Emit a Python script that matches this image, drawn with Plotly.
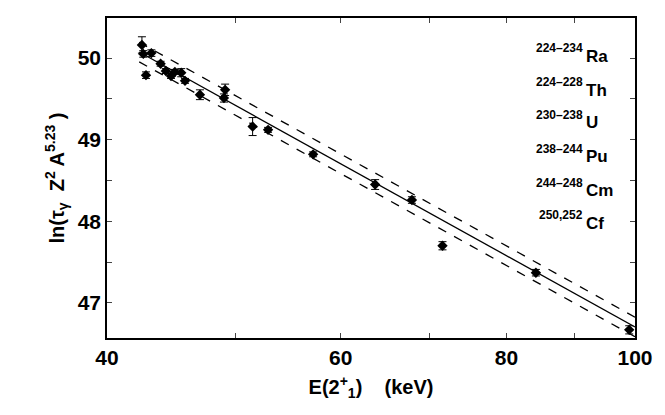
import plotly.graph_objects as go
import numpy as np

E = [42.5, 42.6, 43.2, 42.8, 43.9, 44.3, 44.7, 45.0, 45.5, 45.8, 47.0, 49.0, 49.1, 51.5, 52.9, 57.2, 63.7, 67.9, 71.6, 84.2, 99.0]
Y = [50.16, 50.05, 50.06, 49.79, 49.93, 49.84, 49.78, 49.83, 49.82, 49.72, 49.55, 49.51, 49.61, 49.16, 49.12, 48.82, 48.45, 48.26, 47.70, 47.37, 46.67]
ERR = [0.10, 0.04, 0.04, 0.04, 0.03, 0.03, 0.03, 0.03, 0.05, 0.03, 0.06, 0.05, 0.07, 0.11, 0.03, 0.03, 0.06, 0.04, 0.05, 0.04, 0.05]
fit_a, fit_b, band = 64.73, -3.914, 0.12
mass = ["224–234", "224–228", "230–238", "238–244", "244–248", "250,252"]
elem = ["Ra", "Th", "U", "Pu", "Cm", "Cf"]

xf = np.array([42.3, 100.0])
yf = fit_a + fit_b*np.log(xf)
fig = go.Figure()
fig.add_trace(go.Scatter(x=xf, y=yf, mode="lines", line=dict(color="black", width=1.3)))
for s in (band, -band):
    fig.add_trace(go.Scatter(x=xf, y=yf+s, mode="lines", line=dict(color="black", width=1.3, dash="dash")))
fig.add_trace(go.Scatter(x=E, y=Y, mode="markers",
    marker=dict(symbol="diamond", size=8, color="black"),
    error_y=dict(type="data", array=ERR, color="black", thickness=1, width=4)))
ypix = [45, 79, 112, 146, 180, 213]
for m, el, p in zip(mass, elem, ypix):
    yp = (330 - p) / 322
    fig.add_annotation(x=0.905, y=yp + 0.02, xref="paper", yref="paper", text=m,
                       showarrow=False, xanchor="right", yanchor="middle",
                       font=dict(size=12, family="Liberation Sans", color="black"))
    fig.add_annotation(x=0.903, y=yp - 0.005, xref="paper", yref="paper", text=el,
                       showarrow=False, xanchor="left", yanchor="middle",
                       font=dict(size=17, family="Liberation Sans", color="black", weight="bold"))
axis_common = dict(ticks="inside", ticklen=5, showline=True, mirror="ticks", linecolor="black",
                   linewidth=1.5, showgrid=False, zeroline=False, tickfont=dict(size=21, weight="bold"))
fig.update_layout(
    width=665, height=415, showlegend=False, plot_bgcolor="white", paper_bgcolor="white",
    margin=dict(l=99, r=38, t=8, b=85),
    font=dict(family="Liberation Sans", size=20, color="black", weight="bold"),
    xaxis=dict(type="log", range=[np.log10(40), np.log10(100)],
               tickvals=[40, 50, 60, 70, 80, 90, 100], ticktext=["40", "", "60", "", "80", "", "100"],
               title=dict(text="E(2<sup>+</sup><sub>1</sub>)    (keV)", font=dict(size=20, weight="bold"), standoff=12),
               **axis_common),
    yaxis=dict(range=[46.57, 50.49], tickvals=[47, 47.5, 48, 48.5, 49, 49.5, 50],
               ticktext=["47", "", "48", "", "49", "", "50"],
               title=dict(text="ln(τ<sub>γ</sub>  Z<sup>2</sup> A<sup>5.23</sup> )", font=dict(size=20, weight="bold"), standoff=8),
               **axis_common),
)
fig.write_html("out.html")
